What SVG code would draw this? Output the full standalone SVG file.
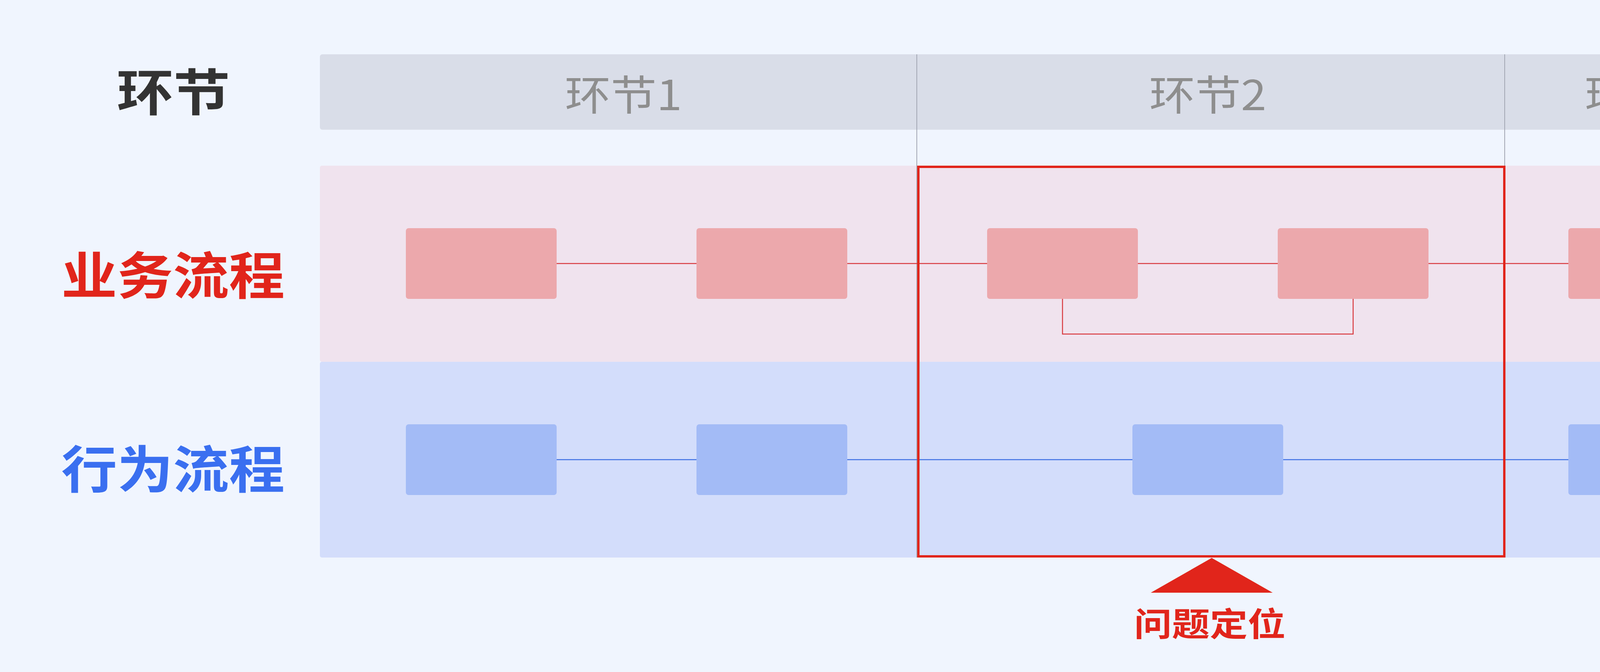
<svg xmlns="http://www.w3.org/2000/svg" width="4940" height="1720" viewBox="0 0 4940 1720">
  <style>
    .lbl { font-family: "Noto Sans CJK SC", "Noto Sans", sans-serif; font-weight: 700; text-anchor: middle; }
    .hdr { font-family: "Noto Sans CJK SC", "Noto Sans", sans-serif; font-weight: 400; font-size: 106px; fill: #8e8e8e; text-anchor: middle; }
    .sep { stroke: #a3a7b3; stroke-width: 2; fill: none; }
    .pline { stroke: #d8393e; stroke-width: 2.5; fill: none; }
    .bline { stroke: #3d6fe3; stroke-width: 2.5; fill: none; }
    .pnode { fill: #eca8ac; }
    .bnode { fill: #a3bbf6; }
  </style>
  <rect x="0" y="0" width="4940" height="1720" fill="#f0f5fe"/>

  <g id="header">
    <rect x="819" y="139" width="3976" height="193" rx="6" fill="#d9dde8"/>
    <text class="hdr" x="1596" y="282" textLength="300" lengthAdjust="spacingAndGlyphs">环节1</text>
    <text class="hdr" x="3092" y="282" textLength="300" lengthAdjust="spacingAndGlyphs">环节2</text>
    <text class="hdr" x="4207" y="282" textLength="300" lengthAdjust="spacingAndGlyphs">环节3</text>
  </g>

  <g id="lanes">
    <rect id="lane-business" x="819" y="424" width="3976" height="502" rx="5" fill="#f0e3ee"/>
    <rect id="lane-behavior" x="819" y="926" width="3976" height="501" rx="5" fill="#d3ddfb"/>
  </g>

  <g id="separators">
    <line class="sep" x1="2347" y1="139" x2="2347" y2="1427"/>
    <line class="sep" x1="3852" y1="139" x2="3852" y2="1427"/>
  </g>

  <g id="row-labels">
    <text class="lbl" x="444" y="284" font-size="128" textLength="290" lengthAdjust="spacingAndGlyphs" fill="#333333">环节</text>
    <text class="lbl" x="443" y="753" font-size="130" textLength="572" lengthAdjust="spacingAndGlyphs" fill="#e1251b">业务流程</text>
    <text class="lbl" x="443" y="1249" font-size="130" textLength="572" lengthAdjust="spacingAndGlyphs" fill="#3a6ff0">行为流程</text>
  </g>

  <g id="connectors">
    <line class="pline" x1="1425" y1="674.5" x2="1783" y2="674.5"/>
    <line class="pline" x1="2169" y1="674.5" x2="2527" y2="674.5"/>
    <line class="pline" x1="2913" y1="674.5" x2="3271" y2="674.5"/>
    <line class="pline" x1="3657" y1="674.5" x2="4015" y2="674.5"/>
    <polyline class="pline" points="2720,765 2720,855 3464,855 3464,765"/>
    <line class="bline" x1="1425" y1="1176.5" x2="1783" y2="1176.5"/>
    <line class="bline" x1="2169" y1="1176.5" x2="2899" y2="1176.5"/>
    <line class="bline" x1="3285" y1="1176.5" x2="4015" y2="1176.5"/>
  </g>

  <g id="business-nodes">
    <rect id="b1" class="pnode" x="1039" y="584" width="386" height="181" rx="7"/>
    <rect id="b2" class="pnode" x="1783" y="584" width="386" height="181" rx="7"/>
    <rect id="b3" class="pnode" x="2527" y="584" width="386" height="181" rx="7"/>
    <rect id="b4" class="pnode" x="3271" y="584" width="386" height="181" rx="7"/>
    <rect id="b5" class="pnode" x="4015" y="584" width="386" height="181" rx="7"/>
  </g>

  <g id="behavior-nodes">
    <rect id="h1" class="bnode" x="1039" y="1086" width="386" height="181" rx="7"/>
    <rect id="h2" class="bnode" x="1783" y="1086" width="386" height="181" rx="7"/>
    <rect id="h3" class="bnode" x="2899" y="1086" width="386" height="181" rx="7"/>
    <rect id="h4" class="bnode" x="4015" y="1086" width="386" height="181" rx="7"/>
  </g>

  <g id="problem-focus">
    <rect x="2351" y="427" width="1500" height="997" fill="none" stroke="#e1251b" stroke-width="6"/>
    <polygon points="3102,1428 2946,1517 3258,1517" fill="#e1251b"/>
    <text class="lbl" x="3097" y="1628" font-size="84" textLength="388" lengthAdjust="spacingAndGlyphs" fill="#e1251b">问题定位</text>
  </g>
</svg>
